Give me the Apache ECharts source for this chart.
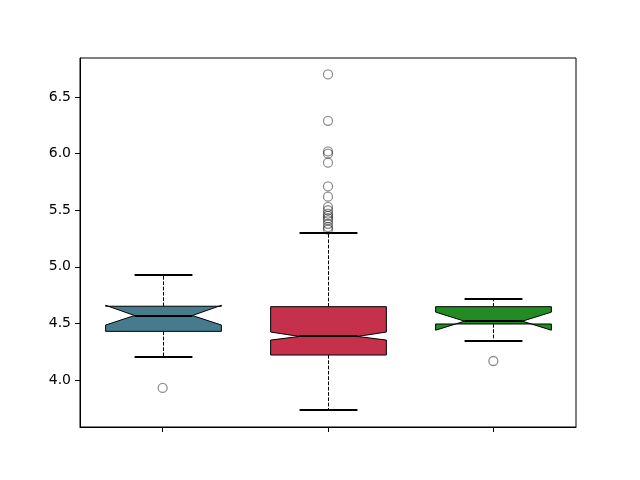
<!DOCTYPE html>
<html>
<head>
<meta charset="utf-8">
<script src="https://cdn.jsdelivr.net/npm/echarts@6/dist/echarts.min.js"></script>
<style>html,body{margin:0;padding:0;background:#fff}#c{width:640px;height:480px}</style>
</head>
<body>
<div id="c"></div>
<script>
const categories = ['A', 'B', 'C'];
const whiskerLow = [4.203, 3.735, 4.345];
const q1 = [4.43, 4.221, 4.495];
const notchLow = [4.486, 4.353, 4.44];
const median = [4.57, 4.385, 4.52];
const notchHigh = [4.66, 4.424, 4.60];
const q3 = [4.652, 4.648, 4.648];
const whiskerHigh = [4.928, 5.296, 4.72];
const outliersA = [3.93];
const outliersB = [6.70, 6.29, 6.02, 6.00, 5.92, 5.71, 5.62, 5.53, 5.50, 5.47, 5.45, 5.43, 5.41, 5.38, 5.35, 5.33];
const outliersC = [4.168];
const boxColors = ['#457b8d', '#c5314a', '#228b22'];
const yTicks = [4.0, 4.5, 5.0, 5.5, 6.0, 6.5];

const boxData = categories.map((c, i) => [i, whiskerLow[i], q1[i], notchLow[i], median[i], notchHigh[i], q3[i], whiskerHigh[i]]);
const outlierData = [];
[outliersA, outliersB, outliersC].forEach((arr, i) => arr.forEach(v => outlierData.push([i, v])));

function renderItem(params, api) {
  const i = api.value(0);
  const y = v => api.coord([i, v])[1];
  const cxr = api.coord([i, api.value(4)])[0];
  const cx = Math.round(cxr) + 0.5;
  const band = api.size([1, 0])[0];
  const hw = band * 0.35, cw = hw * 0.5;
  const wl = api.value(1), b1 = api.value(2), nl = api.value(3), md = api.value(4), nh = api.value(5), b3 = api.value(6), wh = api.value(7);
  const dashed = {stroke: '#000', lineWidth: 1, lineDash: [3.7, 1.6]};
  const ry = v => Math.round(y(v));
  return {
    type: 'group',
    children: [
      {type: 'line', shape: {x1: cx, y1: y(b3), x2: cx, y2: y(wh)}, style: dashed},
      {type: 'line', shape: {x1: cx, y1: y(b1), x2: cx, y2: y(wl)}, style: dashed},
      {type: 'line', shape: {x1: cx - cw, y1: ry(wh), x2: cx + cw, y2: ry(wh)}, style: {stroke: '#000', lineWidth: 2}},
      {type: 'line', shape: {x1: cx - cw, y1: ry(wl), x2: cx + cw, y2: ry(wl)}, style: {stroke: '#000', lineWidth: 2}},
      {type: 'polygon', shape: {points: [
        [cx - hw, y(b1)], [cx - hw, y(nl)], [cx - cw, y(md)], [cx - hw, y(nh)], [cx - hw, y(b3)],
        [cx + hw, y(b3)], [cx + hw, y(nh)], [cx + cw, y(md)], [cx + hw, y(nl)], [cx + hw, y(b1)]
      ]}, style: {fill: boxColors[i], stroke: '#000', lineWidth: 1}},
      {type: 'line', shape: {x1: cx - cw, y1: ry(md), x2: cx + cw, y2: ry(md)}, style: {stroke: '#000', lineWidth: 2}}
    ]
  };
}

const chart = echarts.init(document.getElementById('c'), null, {renderer: 'canvas'});
chart.setOption({
  animation: false,
  backgroundColor: '#fff',
  grid: {left: 80, right: 64, top: 58, bottom: 53, show: true, borderColor: '#000', borderWidth: 1, backgroundColor: 'transparent'},
  xAxis: {
    type: 'category', data: categories, boundaryGap: true,
    axisLine: {show: true, lineStyle: {color: '#000', width: 1}},
    axisTick: {show: true, alignWithLabel: true, length: 5, lineStyle: {color: '#000'}},
    axisLabel: {show: false},
    splitLine: {show: false}
  },
  yAxis: {
    type: 'value', min: 3.585, max: 6.845,
    axisLine: {show: true, lineStyle: {color: '#000', width: 1}},
    axisTick: {show: true, length: 5, lineStyle: {color: '#000'}, customValues: yTicks},
    axisLabel: {show: true, customValues: yTicks, formatter: v => v.toFixed(1), color: '#000', fontSize: 14, fontFamily: 'DejaVu Sans', margin: 9},
    splitLine: {show: false}
  },
  series: [
    {type: 'custom', renderItem: renderItem, data: boxData, encode: {x: 0, y: [1, 2, 3, 4, 5, 6, 7]}, z: 2},
    {type: 'scatter', data: outlierData, symbol: 'circle', symbolSize: 9,
     itemStyle: {color: 'rgba(0,0,0,0)', borderColor: 'rgba(0,0,0,0.55)', borderWidth: 1.3}, z: 3}
  ]
});
</script>
</body>
</html>
